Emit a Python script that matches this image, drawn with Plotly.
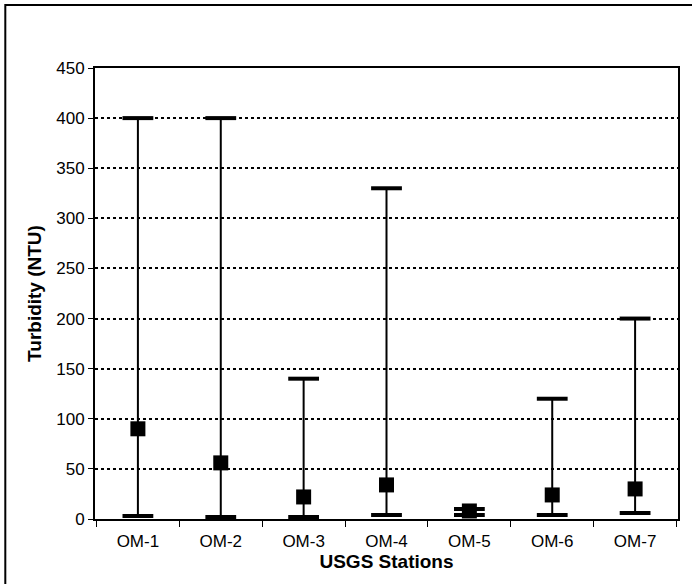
import plotly.graph_objects as go

stations = ["OM-1", "OM-2", "OM-3", "OM-4", "OM-5", "OM-6", "OM-7"]
mean_vals = [90, 56, 22, 34, 8, 24, 30]
max_vals = [400, 400, 140, 330, 10, 120, 200]
min_vals = [3, 2, 2, 4, 4, 4, 6]
y_ticks = [0, 50, 100, 150, 200, 250, 300, 350, 400, 450]

err_plus = [mx - m for mx, m in zip(max_vals, mean_vals)]
err_minus = [m - mn for m, mn in zip(mean_vals, min_vals)]

fig = go.Figure()
fig.add_trace(go.Scatter(
    x=stations, y=mean_vals, mode="markers",
    marker=dict(symbol="square", size=15, color="black"),
    error_y=dict(type="data", symmetric=False, array=err_plus, arrayminus=err_minus,
                 color="black", thickness=2, width=0),
    showlegend=False, cliponaxis=False,
))
for vals in (max_vals, min_vals):
    fig.add_trace(go.Scatter(
        x=stations, y=vals, mode="markers",
        marker=dict(symbol="line-ew", size=22, line=dict(color="black", width=4)),
        showlegend=False, cliponaxis=False,
    ))

W, H = 692, 584
L, R, T, B = 95, 12, 68, 65
pw = W - L - R
ph = H - T - B

fig.add_shape(type="rect", xref="paper", yref="paper",
              x0=(5 - L) / pw, x1=1.5,
              y0=-0.5, y1=(H - 5 - B) / ph,
              line=dict(color="black", width=2))

fig.update_layout(
    width=W, height=H,
    margin=dict(l=L, r=R, t=T, b=B),
    paper_bgcolor="white", plot_bgcolor="white",
    font=dict(family="Liberation Sans, Arial, sans-serif", color="black", size=17),
)
fig.update_xaxes(
    type="category", tickson="boundaries", ticks="outside", ticklen=6, tickwidth=1,
    tickcolor="black", ticklabelstandoff=6,
    showline=True, linecolor="black", linewidth=2, mirror=True,
    showgrid=False,
    tickfont=dict(size=17),
    title=dict(text="<b>USGS Stations</b>", font=dict(size=19), standoff=0),
)
fig.update_yaxes(
    range=[0, 450], tickvals=y_ticks, ticks="outside", ticklen=5, tickwidth=1,
    tickcolor="black",
    showline=True, linecolor="black", linewidth=2, mirror=True,
    showgrid=True, gridcolor="black", gridwidth=2, griddash="dot",
    zeroline=False,
    tickfont=dict(size=17),
    title=dict(text="<b>Turbidity (NTU)</b>", font=dict(size=19), standoff=10),
)

fig.write_html("out.html")
